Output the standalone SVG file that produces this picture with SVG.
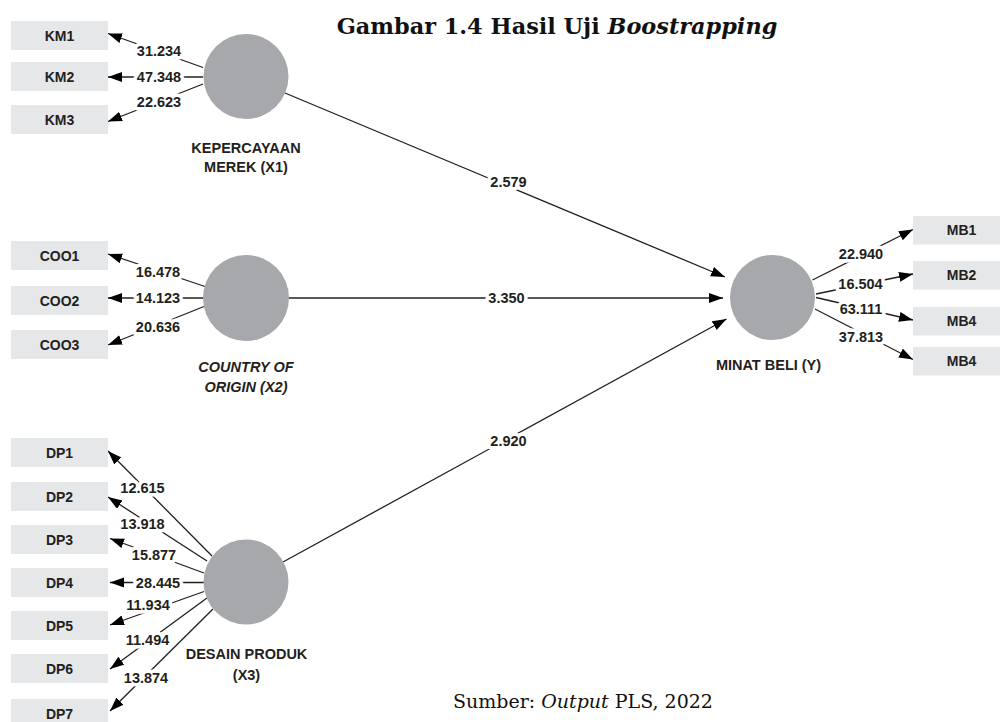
<svg xmlns="http://www.w3.org/2000/svg" width="1000" height="722" viewBox="0 0 1000 722">
<style>
.box{fill:#e6e7e8}
.bt{font-family:"Liberation Sans",Arial,sans-serif;font-weight:bold;font-size:14px;fill:#231f20;text-anchor:middle}
.lv{fill:#a7a8ab}
.lt{font-family:"Liberation Sans",Arial,sans-serif;font-weight:bold;font-size:14.5px;fill:#231f20;text-anchor:middle}
.it{font-style:italic}
.ln{stroke:#231f20;stroke-width:1.3;fill:none;marker-end:url(#ah)}
.num{font-family:"Liberation Sans",Arial,sans-serif;font-weight:bold;font-size:14.5px;fill:#231f20;text-anchor:middle;stroke:#fff;stroke-width:7;stroke-linejoin:round;paint-order:stroke}
</style>
<defs>
<marker id="ah" markerUnits="userSpaceOnUse" markerWidth="15" markerHeight="11" refX="14" refY="5" orient="auto">
<path d="M0,0 L14,5 L0,10 z" fill="#000"/>
</marker>
</defs>
<rect width="1000" height="722" fill="#fff"/>
<text x="557" y="34" font-family="DejaVu Serif,serif" font-weight="bold" font-size="22.4" text-anchor="middle" fill="#111">Gambar 1.4 Hasil Uji <tspan font-style="italic">Boostrapping</tspan></text>
<text x="583" y="708" font-family="DejaVu Serif,serif" font-size="19" text-anchor="middle" fill="#111">Sumber: <tspan font-style="italic">Output</tspan> PLS, 2022</text>

<g id="connectors">
<line class="ln" x1="203" y1="67.5" x2="108" y2="33.5"/>
<line class="ln" x1="203" y1="77" x2="108" y2="77"/>
<line class="ln" x1="203" y1="84" x2="108" y2="121.5"/>
<line class="ln" x1="205" y1="286.5" x2="108" y2="254"/>
<line class="ln" x1="204" y1="298" x2="108" y2="298"/>
<line class="ln" x1="204" y1="306.5" x2="108" y2="345"/>
<line class="ln" x1="212" y1="556" x2="108" y2="451"/>
<line class="ln" x1="207" y1="561" x2="108" y2="497"/>
<line class="ln" x1="204" y1="573" x2="110" y2="538.5"/>
<line class="ln" x1="204" y1="582.5" x2="110" y2="582.5"/>
<line class="ln" x1="204" y1="591.5" x2="110" y2="625"/>
<line class="ln" x1="207" y1="598" x2="110" y2="669"/>
<line class="ln" x1="213" y1="609" x2="110" y2="711"/>
<line class="ln" x1="812.5" y1="280" x2="913" y2="229.5"/>
<line class="ln" x1="816" y1="294" x2="913" y2="274"/>
<line class="ln" x1="816" y1="297.5" x2="913" y2="320"/>
<line class="ln" x1="815" y1="309" x2="913" y2="359.5"/>
<line class="ln" x1="285" y1="93" x2="725" y2="277"/>
<line class="ln" x1="289" y1="298" x2="723" y2="298"/>
<line class="ln" x1="283" y1="562" x2="726.5" y2="319"/>
<text class="num" x="159" y="56">31.234</text>
<text class="num" x="159" y="82">47.348</text>
<text class="num" x="159" y="107">22.623</text>
<text class="num" x="158" y="277">16.478</text>
<text class="num" x="158" y="303">14.123</text>
<text class="num" x="158" y="332">20.636</text>
<text class="num" x="142.5" y="493">12.615</text>
<text class="num" x="142.5" y="529">13.918</text>
<text class="num" x="154" y="560">15.877</text>
<text class="num" x="158" y="588">28.445</text>
<text class="num" x="148" y="610">11.934</text>
<text class="num" x="147.5" y="645">11.494</text>
<text class="num" x="146" y="683">13.874</text>
<text class="num" x="861" y="259">22.940</text>
<text class="num" x="860.5" y="289">16.504</text>
<text class="num" x="861" y="314">63.111</text>
<text class="num" x="861" y="342">37.813</text>
<text class="num" x="508.5" y="187">2.579</text>
<text class="num" x="506.5" y="303">3.350</text>
<text class="num" x="508.5" y="446">2.920</text>
</g>

<g id="KM1"><rect class="box" x="11" y="21" width="97" height="29"/><text class="bt" x="59.5" y="40.5">KM1</text></g>
<g id="KM2"><rect class="box" x="11" y="62" width="97" height="29"/><text class="bt" x="59.5" y="81.5">KM2</text></g>
<g id="KM3"><rect class="box" x="11" y="105" width="97" height="29"/><text class="bt" x="59.5" y="124.5">KM3</text></g>
<g id="COO1"><rect class="box" x="11" y="241" width="97" height="29"/><text class="bt" x="59.5" y="260.5">COO1</text></g>
<g id="COO2"><rect class="box" x="11" y="286" width="97" height="29"/><text class="bt" x="59.5" y="305.5">COO2</text></g>
<g id="COO3"><rect class="box" x="11" y="330" width="97" height="29"/><text class="bt" x="59.5" y="349.5">COO3</text></g>
<g id="DP1"><rect class="box" x="11" y="438" width="97" height="29"/><text class="bt" x="59.5" y="457.5">DP1</text></g>
<g id="DP2"><rect class="box" x="11" y="482" width="97" height="29"/><text class="bt" x="59.5" y="501.5">DP2</text></g>
<g id="DP3"><rect class="box" x="11" y="525" width="97" height="29"/><text class="bt" x="59.5" y="544.5">DP3</text></g>
<g id="DP4"><rect class="box" x="11" y="568" width="97" height="29"/><text class="bt" x="59.5" y="587.5">DP4</text></g>
<g id="DP5"><rect class="box" x="11" y="611" width="97" height="29"/><text class="bt" x="59.5" y="630.5">DP5</text></g>
<g id="DP6"><rect class="box" x="11" y="654" width="97" height="29"/><text class="bt" x="59.5" y="673.5">DP6</text></g>
<g id="DP7"><rect class="box" x="11" y="699" width="97" height="29"/><text class="bt" x="59.5" y="718.5">DP7</text></g>
<g id="MB1"><rect class="box" x="913" y="216" width="97" height="28.5"/><text class="bt" x="961.5" y="235">MB1</text></g>
<g id="MB2"><rect class="box" x="913" y="261" width="97" height="28.5"/><text class="bt" x="961.5" y="280">MB2</text></g>
<g id="MB3"><rect class="box" x="913" y="307" width="97" height="28.5"/><text class="bt" x="961.5" y="326">MB4</text></g>
<g id="MB4"><rect class="box" x="913" y="347" width="97" height="28.5"/><text class="bt" x="961.5" y="366">MB4</text></g>

<g id="X1"><circle class="lv" cx="246" cy="76.5" r="42.5"/><text class="lt" x="246" y="153">KEPERCAYAAN</text><text class="lt" x="246" y="171.5">MEREK (X1)</text></g>
<g id="X2"><circle class="lv" cx="246" cy="298" r="43"/><text class="lt it" x="246" y="371.5">COUNTRY OF</text><text class="lt it" x="246" y="391.5">ORIGIN (X2)</text></g>
<g id="X3"><circle class="lv" cx="246" cy="582" r="42.5"/><text class="lt" x="246.5" y="659">DESAIN PRODUK</text><text class="lt" x="246.5" y="680">(X3)</text></g>
<g id="Y"><circle class="lv" cx="772.5" cy="297.5" r="42.5"/><text class="lt" x="768.5" y="370">MINAT BELI (Y)</text></g>
</svg>
